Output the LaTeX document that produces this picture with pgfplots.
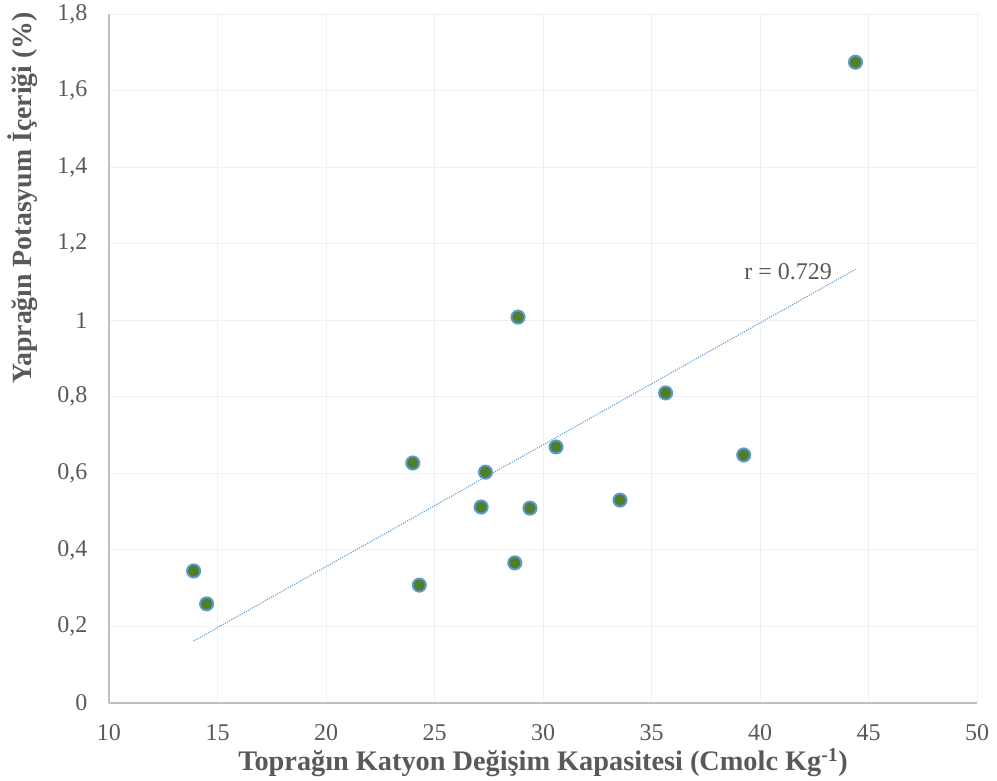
\documentclass[border=0pt]{standalone}
\usepackage{pgfplots}
\pgfplotsset{compat=1.18}
\usepackage{fontspec}
\setmainfont{Liberation Serif}
\definecolor{txtgray}{HTML}{595959}
\definecolor{axgray}{HTML}{BFBFBF}
\definecolor{gridc}{HTML}{EDF1F6}
\definecolor{ptfill}{HTML}{4F7F2B}
\definecolor{ptedge}{HTML}{5B9BD5}
\begin{document}
\begin{tikzpicture}[x=1pt,y=1pt]
\useasboundingbox (0,0) rectangle (997,781);
\begin{axis}[
  at={(109pt,78pt)}, anchor=south west,
  scale only axis, width=868pt, height=689pt,
  xmin=10, xmax=50, ymin=0, ymax=1.8,
  xtick={10,15,...,50}, ytick={0,0.2,...,1.8},
  axis x line=bottom, axis y line=left,
  axis line style={draw=axgray, line width=1.5pt, -},
  major tick length=0pt,
  grid=major, major grid style={draw=gridc, line width=0.8pt},
  tick label style={text=txtgray, font=\fontsize{24}{28}\selectfont},
  /pgf/number format/.cd, use comma, assume math mode=true, fixed,
  /pgfplots/.cd,
  xticklabel style={yshift=-18pt},
  yticklabel style={xshift=-18pt},
  clip=false,
]
% linear trend
\addplot[draw=ptedge, line width=1.1pt, dash pattern=on 1.1pt off 1.3pt] coordinates {(13.9,0.162) (44.4,1.133)};
% observations
\addplot[only marks, mark=*, mark size=6.6pt,
  mark options={fill=ptfill, draw=ptedge, line width=1.9pt}] coordinates {
  (13.9,0.345) (14.5,0.259) (24.0,0.627) (24.3,0.308)
  (27.15,0.512) (27.35,0.603) (28.7,0.366) (28.85,1.008)
  (29.4,0.509) (30.6,0.669) (33.55,0.530) (35.65,0.810)
  (39.25,0.648) (44.4,1.674)
};
\node[text=txtgray, font=\fontsize{24}{28}\selectfont] at (axis cs:41.3,1.126) {r = 0.729};
% axis titles
\node[text=txtgray, font=\fontsize{28.3}{32}\selectfont\bfseries, anchor=center]
  at (axis description cs:0.5,-0.087) {Toprağın Katyon Değişim Kapasitesi (Cmolc Kg\textsuperscript{-1})};
\node[text=txtgray, font=\fontsize{27.8}{32}\selectfont\bfseries, anchor=center, rotate=90]
  at (axis description cs:-0.0995,0.733) {Yaprağın Potasyum İçeriği (\%)};
\end{axis}
\end{tikzpicture}
\end{document}
